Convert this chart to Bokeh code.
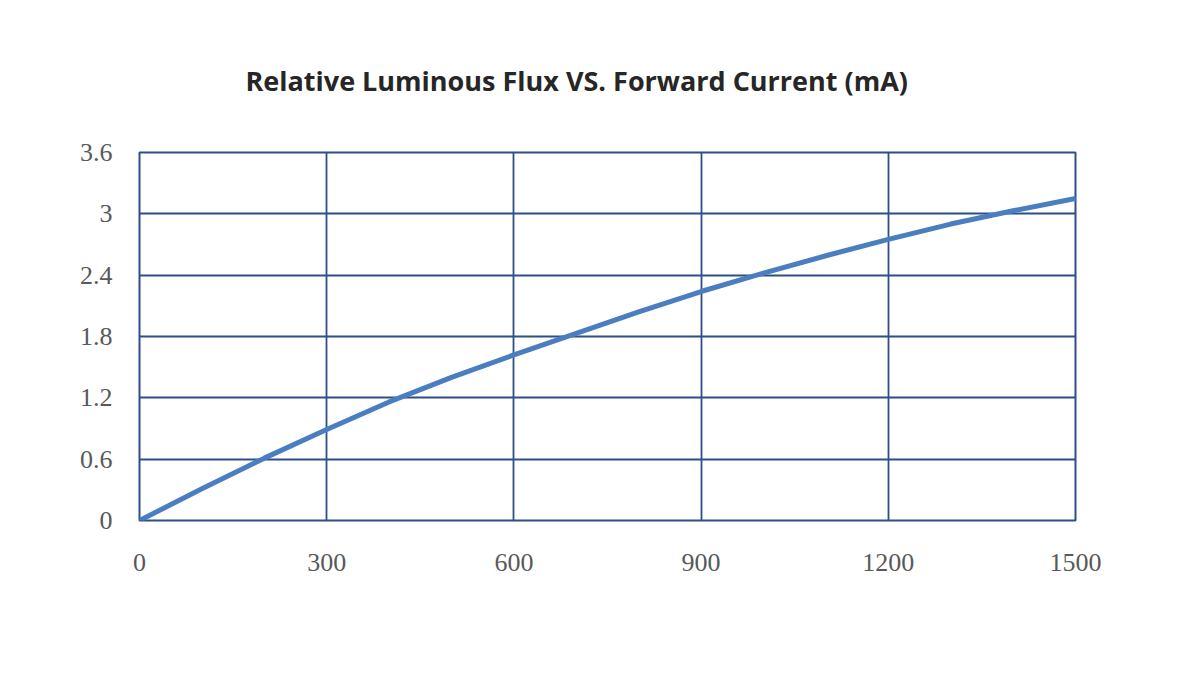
from bokeh.plotting import figure
from bokeh.models import FixedTicker, Range1d
from bokeh.embed import file_html
from bokeh.resources import INLINE

title_text = "Relative Luminous Flux VS. Forward Current (mA)"
current_ma = [0, 100, 200, 300, 400, 500, 600, 700, 800, 900, 1000, 1100, 1200, 1300, 1400, 1500]
rel_flux = [0, 0.31, 0.61, 0.89, 1.16, 1.40, 1.62, 1.83, 2.04, 2.24, 2.42, 2.59, 2.75, 2.90, 3.03, 3.15]
x_ticks = [0, 300, 600, 900, 1200, 1500]
y_ticks = [0, 0.6, 1.2, 1.8, 2.4, 3.0, 3.6]
y_tick_labels = ["0", "0.6", "1.2", "1.8", "2.4", "3", "3.6"]

GRID = "#2C4F88"
LINE = "#4A7EC0"

p = figure(width=1169, height=666, output_backend="svg", toolbar_location=None,
           x_range=Range1d(0, 1500), y_range=Range1d(0, 3.6),
           min_border_left=139, min_border_right=94, min_border_top=152,
           min_border_bottom=146)

p.title.text = title_text
p.title.text_font = "Open Sans"
p.title.text_font_style = "bold"
p.title.text_font_size = "27px"
p.title.text_color = "#262626"
p.title.align = "left"
p.title.offset = 106
p.title.standoff = 107

for ax in (p.xaxis[0], p.yaxis[0]):
    ax.axis_line_color = None
    ax.major_tick_line_color = None
    ax.minor_tick_line_color = None
    ax.major_label_text_font = "Liberation Serif"
    ax.major_label_text_font_size = "26px"
    ax.major_label_text_color = "#595959"

p.xaxis.ticker = FixedTicker(ticks=x_ticks)
p.yaxis.ticker = FixedTicker(ticks=y_ticks)
p.yaxis.major_label_overrides = {t: l for t, l in zip(y_ticks, y_tick_labels)}
p.xaxis.major_label_standoff = 27
p.yaxis.major_label_standoff = 21

p.xgrid.ticker = FixedTicker(ticks=x_ticks)
p.ygrid.ticker = FixedTicker(ticks=y_ticks)
p.grid.grid_line_color = GRID
p.grid.grid_line_width = 1.8
p.outline_line_color = GRID
p.outline_line_width = 2

p.line(current_ma, rel_flux, line_color=LINE, line_width=5, line_cap="round", line_join="round")

p.background_fill_color = "white"
p.border_fill_color = "white"

open("out.html", "w").write(file_html(p, INLINE))
